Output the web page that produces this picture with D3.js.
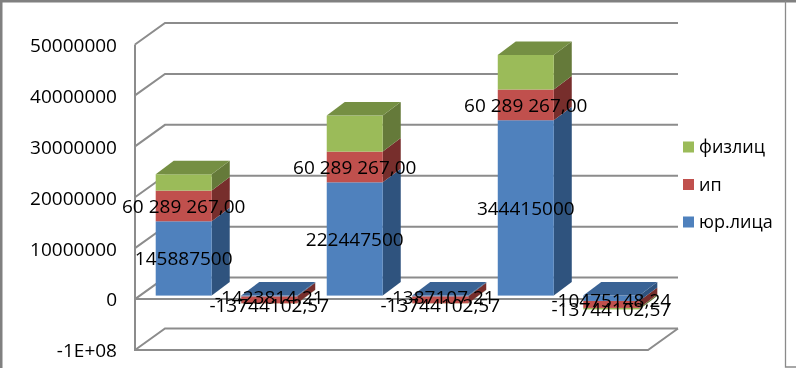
<!DOCTYPE html>
<html><head><meta charset="utf-8">
<script src="https://cdn.jsdelivr.net/npm/d3@7/dist/d3.min.js"></script>
<style>
html,body{margin:0;padding:0;background:#fff}
svg{display:block;filter:blur(.35px)}
text{font-family:"Open Sans",sans-serif;font-size:19px;fill:#000}
text.legend{font-size:18px}
</style></head><body>
<div id="chart"></div>
<script>
const categories = ["a","b","c","d","e","f"];
const seriesNames = ["юр.лица","ип","физлиц"];
const legal = [145887500,-1423814.21,222447500,-1387107.21,344415000,-10475148.24];
const sole = [60289267,-13744102.57,60289267,-13744102.57,60289267,-13744102.57];
const persons = [32000000,-400000,70800000,-400000,68000000,-3000000];
const legalLabels = ["145887500","-1423814,21","222447500","-1387107,21","344415000","-10475148,24"];
const soleLabels = ["60 289 267,00","-13744102,57","60 289 267,00","-13744102,57","60 289 267,00","-13744102,57"];
const tickValues = [-1e8,0,1e8,2e8,3e8,4e8,5e8];
const tickLabels = ["-1E+08","0","10000000","20000000","30000000","40000000","50000000"];
const faceColors = ["#4f81bd","#c0504d","#9bbb59"];
const sideColors = ["#2f537e","#772e2c","#657a3a"];
const topColors = ["#3a6395","#8f3d3a","#758f43"];

const W=796,H=368;
const svg=d3.select("#chart").append("svg").attr("width",W).attr("height",H);
const x0=135,x1=648,DX=30,DY=-21.5;
const x=d3.scaleBand().domain(categories).range([x0,x1]).paddingInner(.345).paddingOuter(.172);
const y=d3.scaleLinear().domain([-1e8,5e8]).range([350,44.5]);
const grid="#8c8c8c";

// frame
svg.append("path").attr("d",`M1,${H}V1H${W}`).attr("fill","none").attr("stroke","#808080").attr("stroke-width",3);
svg.append("path").attr("d",`M${W},367H785.5V1`).attr("fill","none").attr("stroke","#8a8a8a").attr("stroke-width",1.3);

// walls
const g=svg.append("g").attr("fill","none").attr("stroke",grid).attr("stroke-width",2);
tickValues.forEach(v=>{
  g.append("path").attr("d",`M${x0},${y(v)}L${x0+DX},${y(v)+DY}H${x1+DX}`);
});
g.append("path").attr("d",`M${x0},${y(5e8)}V${y(-1e8)}H${x1}L${x1+DX},${y(-1e8)+DY}`);
g.append("path").attr("d",`M${x0},${y(0)}H${x1}`);

// axis labels
const axis=d3.axisLeft(y).tickValues(tickValues).tickSize(0).tickPadding(0)
  .tickFormat((d,i)=>tickLabels[i]);
const ag=svg.append("g").attr("transform","translate(117,0)").call(axis);
ag.select(".domain").remove();
ag.selectAll("text").attr("dy","0.36em");
ag.attr("font-size",null).attr("font-family",null);

// bars
const rows=categories.map((c,i)=>({c,s0:legal[i],s1:sole[i],s2:persons[i]}));
const stacked=d3.stack().keys(["s0","s1","s2"]).offset(d3.stackOffsetDiverging)(rows);
const barDX=6,barDY=-3.5,depthX=18,depthY=-13.5;
const bars=svg.append("g");
categories.forEach((c,i)=>{
  const segs=stacked.map((s,k)=>({k,lo:Math.min(s[i][0],s[i][1]),hi:Math.max(s[i][0],s[i][1])}));
  const left=x(c)+barDX, right=left+x.bandwidth();
  const order=legal[i]<0?segs.slice().reverse():segs;
  const topSeg=legal[i]<0?segs[0]:segs[2];
  order.forEach(d=>{
    const yt=y(d.hi)+barDY,yb=y(d.lo)+barDY;
    bars.append("path").attr("fill",sideColors[d.k])
      .attr("d",`M${right},${yb}L${right+depthX},${yb+depthY}V${yt+depthY}L${right},${yt}Z`);
    bars.append("rect").attr("fill",faceColors[d.k])
      .attr("x",left).attr("y",yt).attr("width",right-left).attr("height",Math.max(yb-yt,.1));
  });
  const yt=y(topSeg.hi)+barDY;
  bars.append("path").attr("fill",topColors[topSeg.k])
    .attr("d",`M${left},${yt}L${left+depthX},${yt+depthY}H${right+depthX}L${right},${yt}Z`);
});

// data labels
const lab=svg.append("g").attr("text-anchor","middle");
categories.forEach((c,i)=>{
  const cx=x(c)+barDX+x.bandwidth()/2;
  [[0,legalLabels[i]],[1,soleLabels[i]]].forEach(([k,t])=>{
    const p=stacked[k][i];
    const nudge=legal[i]<0?(k===1?5:1.5):0;
    lab.append("text").attr("x",cx).attr("y",y((p[0]+p[1])/2)+barDY+nudge).attr("dy","0.36em").text(t);
  });
});

// legend
const legendY=d3.scalePoint().domain(seriesNames).range([222,147]);
seriesNames.forEach((n,k)=>{
  svg.append("rect").attr("x",683).attr("y",legendY(n)-5.5).attr("width",11).attr("height",11).attr("fill",faceColors[k]);
  svg.append("text").attr("class","legend").attr("x",699).attr("y",legendY(n)).attr("dy","0.36em").text(n);
});
</script></body></html>
